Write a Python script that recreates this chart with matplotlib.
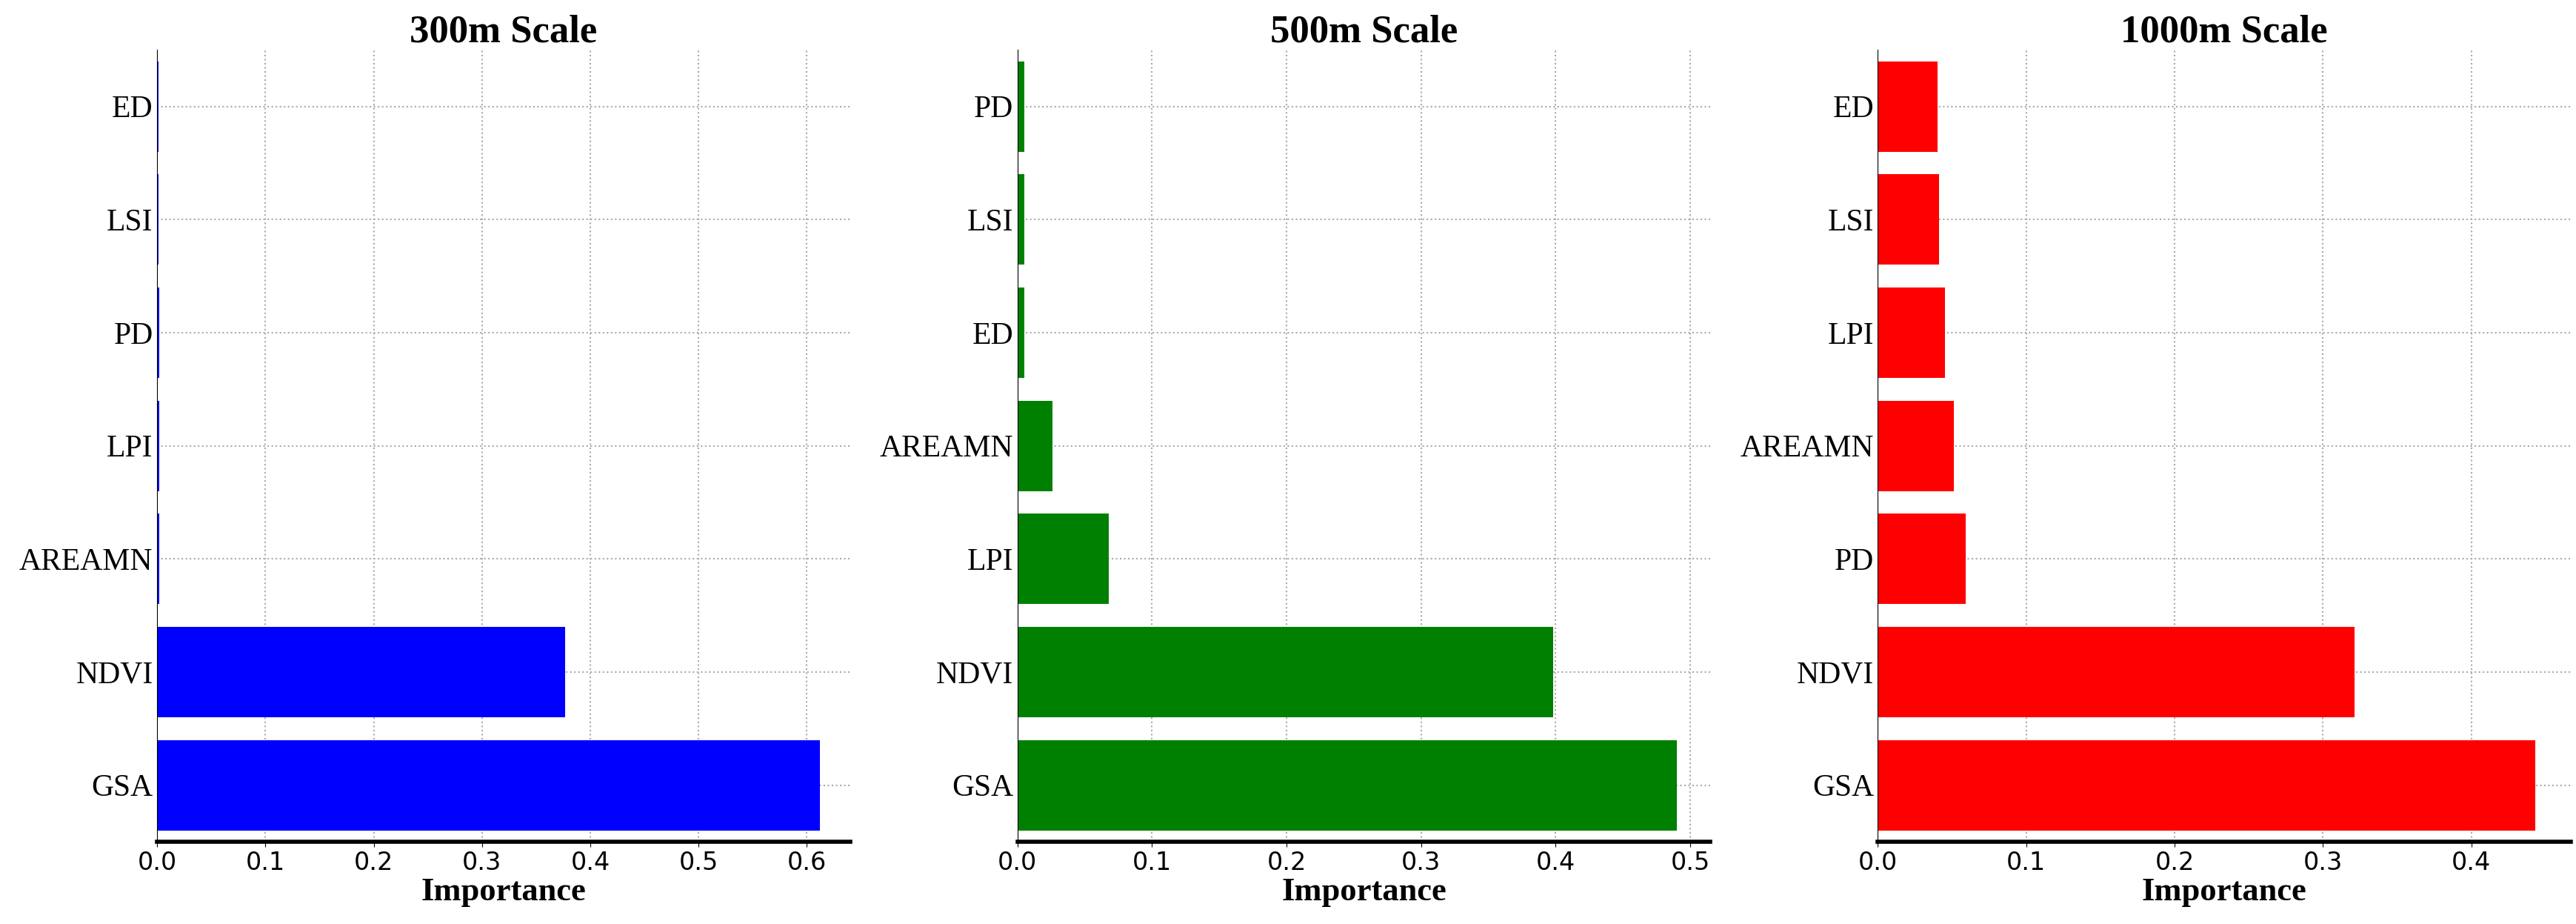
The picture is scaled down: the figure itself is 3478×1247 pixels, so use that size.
import matplotlib
matplotlib.use("Agg")
import matplotlib.pyplot as plt

titles = ["300m Scale", "500m Scale", "1000m Scale"]
colors = ["blue", "green", "red"]
labels_300 = ["GSA", "NDVI", "AREAMN", "LPI", "PD", "LSI", "ED"]
vals_300 = [0.612, 0.377, 0.002, 0.002, 0.002, 0.001, 0.001]
labels_500 = ["GSA", "NDVI", "LPI", "AREAMN", "ED", "LSI", "PD"]
vals_500 = [0.490, 0.398, 0.068, 0.026, 0.005, 0.005, 0.005]
labels_1000 = ["GSA", "NDVI", "PD", "AREAMN", "LPI", "LSI", "ED"]
vals_1000 = [0.443, 0.321, 0.059, 0.051, 0.045, 0.041, 0.040]
xmax = [0.64, 0.515, 0.467]

fig = plt.figure(figsize=(34.78, 12.47), dpi=100)
lefts = [0.061, 0.395, 0.729]
w = 0.269
data = [(labels_300, vals_300), (labels_500, vals_500), (labels_1000, vals_1000)]
for i, (labs, vals) in enumerate(data):
    ax = fig.add_axes([lefts[i], 0.089, w, 0.857])
    ax.barh(range(len(labs)), vals, height=0.8, color=colors[i], zorder=2)
    ax.set_yticks(range(len(labs)))
    ax.set_yticklabels(labs, fontfamily="Liberation Serif", fontsize=30)
    ax.set_xlim(0, xmax[i])
    ax.set_ylim(-0.5, len(labs) - 0.5)
    ax.tick_params(axis="x", labelsize=24, length=5)
    ax.tick_params(axis="y", length=0, pad=4)
    ax.grid(True, linestyle=":", color="#aaaaaa", linewidth=1.5, zorder=0)
    for s in ["top", "right"]:
        ax.spines[s].set_visible(False)
    ax.spines["bottom"].set_linewidth(4)
    ax.set_title(titles[i], fontfamily="Liberation Serif", fontweight="bold", fontsize=38, pad=8)
    ax.set_xlabel("Importance", fontfamily="Liberation Serif", fontweight="bold", fontsize=32, labelpad=2)

fig.savefig("out.png", dpi=100)
